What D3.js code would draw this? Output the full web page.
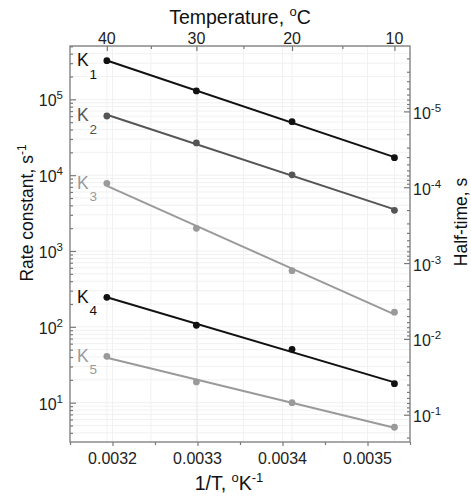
<!DOCTYPE html>
<html>
<head>
<meta charset="utf-8">
<script src="https://cdn.jsdelivr.net/npm/d3@7"></script>
<style>
  body { margin: 0; background: #fff; }
  svg { display: block; font-family: "Liberation Sans", Arial, sans-serif; }
</style>
</head>
<body>
<div id="chart"></div>
<script>
// temperatures of the measurements, deg C
var tempsC = [40, 30, 20, 10];
var tempTicks = [40, 30, 20, 10];
var tempMinor = [35, 25, 15];
// rate constants, s^-1
var k1 = [3.23e5, 1.29e5, 5.07e4, 1.70e4];
var k2 = [6.03e4, 2.66e4, 1.01e4, 3.44e3];
var k3 = [7.8e3, 1.99e3, 550, 156];
var k4 = [245, 105, 50.6, 17.8];
var k5 = [40.9, 18.8, 10.0, 4.74];
var seriesNames = ["1", "2", "3", "4", "5"];
var seriesColors = ["#111", "#555", "#9a9a9a", "#111", "#9a9a9a"];
var invTTicks = [0.0032, 0.0033, 0.0034, 0.0035];
var kTicks = [1e1, 1e2, 1e3, 1e4, 1e5];
var halfTicks = [1e-1, 1e-2, 1e-3, 1e-4, 1e-5];

var width = 471, height = 496;
var margin = {top: 46, right: 61, bottom: 54, left: 70};
var pLeft = margin.left, pRight = width - margin.right;
var pTop = margin.top, pBottom = height - margin.bottom;

var svg = d3.select("#chart").append("svg")
    .attr("width", width)
    .attr("height", height);

var x = d3.scaleLinear().domain([0.00315, 0.00355]).range([pLeft, pRight]);
var y = d3.scaleLog().domain([3.03, 5.05e5]).range([pBottom, pTop]);
// half-time t = ln2 / k
var yR = d3.scaleLog().domain([Math.LN2 / 3.03, Math.LN2 / 5.05e5]).range([pBottom, pTop]);

function invT(c) { return 1 / (c + 273.15); }

// minor ticks on log axes
function logMinor(scale) {
    var d = scale.domain(), lo = Math.min(d[0], d[1]), hi = Math.max(d[0], d[1]);
    var out = [];
    for (var e = Math.floor(Math.log10(lo)); e <= Math.ceil(Math.log10(hi)); e++) {
        for (var m = 2; m <= 9; m++) {
            var v = m * Math.pow(10, e);
            if (v >= lo && v <= hi) out.push(v);
        }
    }
    return out;
}
var xMinor = [0.00315, 0.00325, 0.00335, 0.00345, 0.00355];

// faint grid
var grid = svg.append("g").attr("stroke", "#f1f1f1").attr("stroke-width", 1);
grid.selectAll("line.h")
    .data(kTicks.concat(logMinor(y)))
    .enter().append("line")
    .attr("x1", pLeft).attr("x2", pRight)
    .attr("y1", function(d) { return y(d); })
    .attr("y2", function(d) { return y(d); });
grid.selectAll("line.v")
    .data(invTTicks.concat(tempTicks.map(invT), tempMinor.map(invT)))
    .enter().append("line")
    .attr("y1", pTop).attr("y2", pBottom)
    .attr("x1", function(d) { return x(d); })
    .attr("x2", function(d) { return x(d); });

var axisColor = "#7a7a7a";
function styleAxis(g) {
    g.select(".domain").remove();
    g.selectAll(".tick line").attr("stroke", axisColor).attr("stroke-width", 1.2);
    g.selectAll(".tick text").remove();
}

// bottom axis (outward ticks)
svg.append("g").attr("transform", "translate(0," + pBottom + ")")
    .call(d3.axisBottom(x).tickValues(invTTicks).tickSize(4)).call(styleAxis);
svg.append("g").attr("transform", "translate(0," + pBottom + ")")
    .call(d3.axisBottom(x).tickValues(xMinor).tickSize(3)).call(styleAxis);
// top axis (temperature, inward)
svg.append("g").attr("transform", "translate(0," + pTop + ")")
    .call(d3.axisTop(x).tickValues(tempTicks.map(invT)).tickSize(-5)).call(styleAxis);
svg.append("g").attr("transform", "translate(0," + pTop + ")")
    .call(d3.axisTop(x).tickValues(tempMinor.map(invT)).tickSize(-3)).call(styleAxis);
// left axis
svg.append("g").attr("transform", "translate(" + pLeft + ",0)")
    .call(d3.axisLeft(y).tickValues(kTicks).tickSize(-6)).call(styleAxis);
svg.append("g").attr("transform", "translate(" + pLeft + ",0)")
    .call(d3.axisLeft(y).tickValues(logMinor(y)).tickSize(-3)).call(styleAxis);
// right axis
svg.append("g").attr("transform", "translate(" + pRight + ",0)")
    .call(d3.axisRight(yR).tickValues(halfTicks).tickSize(-6)).call(styleAxis);
svg.append("g").attr("transform", "translate(" + pRight + ",0)")
    .call(d3.axisRight(yR).tickValues(logMinor(yR)).tickSize(-3)).call(styleAxis);

// frame
svg.append("rect")
    .attr("x", pLeft).attr("y", pTop)
    .attr("width", pRight - pLeft).attr("height", pBottom - pTop)
    .attr("fill", "none").attr("stroke", axisColor).attr("stroke-width", 1.3);

// tick labels
var tickFont = 16;
svg.append("g").selectAll("text")
    .data(invTTicks).enter().append("text")
    .attr("x", function(d) { return x(d); })
    .attr("y", pBottom + 21.5)
    .attr("text-anchor", "middle")
    .attr("font-size", tickFont)
    .attr("fill", "#222")
    .text(function(d) { return d3.format(".4f")(d); });

svg.append("g").selectAll("text")
    .data(tempTicks).enter().append("text")
    .attr("x", function(d) { return x(invT(d)); })
    .attr("y", pTop - 2.5)
    .attr("text-anchor", "middle")
    .attr("font-size", tickFont)
    .attr("fill", "#222")
    .text(function(d) { return d; });

function powLabel(sel, exp) {
    sel.append("tspan").text("10");
    sel.append("tspan").attr("dy", -7).attr("font-size", 11.5).text(exp);
}
svg.append("g").selectAll("text")
    .data(kTicks).enter().append("text")
    .attr("x", pLeft - 7)
    .attr("y", function(d) { return y(d) + 7; })
    .attr("text-anchor", "end")
    .attr("font-size", tickFont)
    .attr("fill", "#222")
    .each(function(d) { powLabel(d3.select(this), Math.round(Math.log10(d))); });

svg.append("g").selectAll("text")
    .data(halfTicks).enter().append("text")
    .attr("x", pRight + 3)
    .attr("y", function(d) { return yR(d) + 7.5; })
    .attr("font-size", tickFont)
    .attr("fill", "#222")
    .each(function(d) { powLabel(d3.select(this), "-" + Math.round(-Math.log10(d))); });

// axis titles
var titleFont = 19.5, sideFont = 17.5;
var tTop = svg.append("text").attr("x", 240).attr("y", 24)
    .attr("text-anchor", "middle").attr("font-size", titleFont).attr("fill", "#111");
tTop.append("tspan").text("Temperature, ");
tTop.append("tspan").attr("dy", -8).attr("font-size", 13).text("o");
tTop.append("tspan").attr("dy", 8).text("C");

var tBot = svg.append("text").attr("x", 229).attr("y", 490)
    .attr("text-anchor", "middle").attr("font-size", titleFont).attr("fill", "#111");
tBot.append("tspan").text("1/T, ");
tBot.append("tspan").attr("dy", -8).attr("font-size", 13).text("o");
tBot.append("tspan").attr("dy", 8).text("K");
tBot.append("tspan").attr("dy", -8).attr("font-size", 13).text("-1");

var tLeft = svg.append("text")
    .attr("transform", "translate(33,213) rotate(-90)")
    .attr("text-anchor", "middle").attr("font-size", sideFont).attr("fill", "#111");
tLeft.append("tspan").text("Rate constant, s");
tLeft.append("tspan").attr("dy", -7).attr("font-size", 12).text("-1");

svg.append("text")
    .attr("transform", "translate(467,222) rotate(-90)")
    .attr("text-anchor", "middle").attr("font-size", sideFont).attr("fill", "#111")
    .text("Half-time, s");

// series: Arrhenius fit lines + points
var series = [k1, k2, k3, k4, k5].map(function(vals, i) {
    return {
        name: seriesNames[i],
        color: seriesColors[i],
        points: vals.map(function(v, j) { return {x: invT(tempsC[j]), k: v}; })
    };
});

function fit(points) {
    var mx = d3.mean(points, function(p) { return p.x; });
    var my = d3.mean(points, function(p) { return Math.log10(p.k); });
    var sxy = 0, sxx = 0;
    points.forEach(function(p) {
        sxy += (p.x - mx) * (Math.log10(p.k) - my);
        sxx += (p.x - mx) * (p.x - mx);
    });
    var b = sxy / sxx, a = my - b * mx;
    var xs = d3.extent(points, function(p) { return p.x; });
    return xs.map(function(xv) { return {x: xv, k: Math.pow(10, a + b * xv)}; });
}

var line = d3.line()
    .x(function(d) { return x(d.x); })
    .y(function(d) { return y(d.k); });

var sg = svg.append("g").selectAll("g")
    .data(series).enter().append("g");

sg.append("path")
    .attr("d", function(d) { return line(fit(d.points)); })
    .attr("fill", "none")
    .attr("stroke", function(d) { return d.color; })
    .attr("stroke-width", 2);

sg.selectAll("circle")
    .data(function(d) { return d.points.map(function(p) { return {p: p, color: d.color}; }); })
    .enter().append("circle")
    .attr("cx", function(d) { return x(d.p.x); })
    .attr("cy", function(d) { return y(d.p.k); })
    .attr("r", 3.4)
    .attr("fill", function(d) { return d.color; });

// K labels next to first point
sg.each(function(d) {
    var y0 = y(d.points[0].k);
    var g = d3.select(this);
    g.append("text").attr("x", 77).attr("y", y0 + 5.5)
        .attr("font-size", 17.5).attr("fill", d.color).text("K");
    g.append("text").attr("x", 89.5).attr("y", y0 + 18)
        .attr("font-size", 13.5).attr("fill", d.color).text(d.name);
});
</script>
</body>
</html>
